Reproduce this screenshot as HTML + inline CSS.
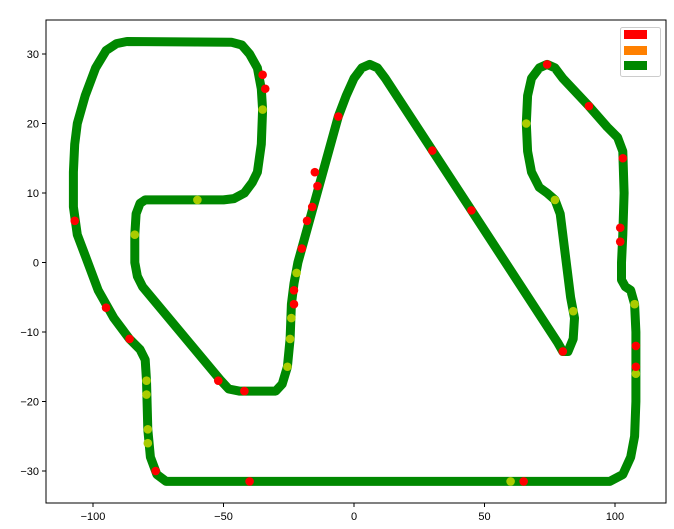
<!DOCTYPE html>
<html><head><meta charset="utf-8"><style>
body{margin:0;background:#fff;font-family:"Liberation Sans",sans-serif}
svg text{font-family:"Liberation Sans",sans-serif;font-size:11px;fill:#000}
</style></head><body>
<svg id="chart" width="674" height="524">
<rect x="46" y="20" width="620" height="483" fill="#fff" stroke="#000" stroke-width="1"/>
<g id="marks"></g>
<g id="axes"></g>
<g>
<rect x="620.5" y="27.5" width="40" height="49" rx="2" fill="#fff" stroke="#ccc"/>
<rect x="624" y="30" width="23" height="9" fill="#ff0000"/>
<rect x="624" y="46" width="23" height="9" fill="#ff8000"/>
<rect x="624" y="61" width="23" height="9" fill="#008800"/>
</g>
</svg>
<script>
const trackX=[-87,-47,-43,-40,-37,-35.5,-35,-35.5,-37,-39,-42,-46,-50,-80,-82,-83.5,-84,-84,-83,-81,-51,-48,-44,-30,-27.5,-25.5,-24.5,-24,-23,-21.5,-6,-3,0,3,6,9,12,78,80,82,84,84.5,83,79,77,74,71,68,66.5,66,66.5,68,71,74,77,80,90,97,101,103,103.5,103,102.5,102.5,104,106,107.5,108,108,107.5,106,103,98,92,-72,-75.5,-78,-79,-79.5,-80,-82,-86,-92,-98,-103,-106,-107.5,-107.5,-107,-106,-103,-99,-95,-91,-87];
const trackY=[31.8,31.7,31.3,30,28,25,22,17,13,11.5,10,9.2,9,9,8.5,7,4,0,-2,-3.5,-17,-18.2,-18.5,-18.5,-17.5,-15,-11,-6,-3,0,21,24,26.5,28,28.5,28,26.5,-11.5,-12.8,-12.8,-11,-8,-5,7,9,10,10.8,13,16,20,24,26.5,28,28.5,28,26.5,22.5,19.5,18,16,10,4,0,-2.5,-3.5,-4,-6,-10,-20,-25,-28,-30.5,-31.5,-31.5,-31.5,-30.5,-28,-24,-17,-14,-12.5,-11,-8,-4,1,4,8,13,17,20,24,28,30.5,31.5,31.8];
const redX=[-15,-14,-16,-18,-20,-23,-23,-35,-34,-107,-95,-86,-42,-52,102,102,108,108,103,-6,30,45,65,90,-40,80,-76,74];
const redY=[13,11,8,6,2,-4,-6,27,25,6,-6.5,-11,-18.5,-17,5,3,-12,-15,15,21,16.1,7.5,-31.5,22.5,-31.5,-12.8,-30,28.5];
const yelX=[-22,-24,-24.5,-35,-79,-79,-79.5,84,108,-84,66,-25.5,77,107.5,-79.5,-60,60];
const yelY=[-1.5,-8,-11,22,-24,-26,-19,-7,-16,4,20,-15,9,-6,-17,9,-31.5];
const xTicks=[-100,-50,0,50,100];
const yTicks=[-30,-20,-10,0,10,20,30];
const X=v=>354+v*2.61, Y=v=>262.5-v*6.95;
const ns="http://www.w3.org/2000/svg";
const marks=document.getElementById('marks'), axes=document.getElementById('axes');
function mk(tag,attrs,parent){const e=document.createElementNS(ns,tag);for(const k in attrs)e.setAttribute(k,attrs[k]);parent.appendChild(e);return e;}
let d=trackX.map((x,i)=>(i?'L':'M')+X(x).toFixed(1)+' '+Y(trackY[i]).toFixed(1)).join(' ');
const path=mk('path',{d:d,fill:'none',stroke:'#008800','stroke-width':9,'stroke-linejoin':'round','stroke-linecap':'round'},marks);


yelX.forEach((x,i)=>{const c=mk('circle',{cx:X(x),cy:Y(yelY[i]),r:4.3,fill:'#aacc00'},marks);

});
redX.forEach((x,i)=>{const c=mk('circle',{cx:X(x),cy:Y(redY[i]),r:4.3,fill:'#ff0000'},marks);

});
xTicks.forEach(t=>{const px=X(t);mk('line',{x1:px,x2:px,y1:503,y2:507,stroke:'#000'},axes);
const tx=mk('text',{x:px,y:520,'text-anchor':'middle'},axes);tx.textContent=t<0?'\u2212'+(-t):t;

});
yTicks.forEach(t=>{const py=Y(t);mk('line',{x1:42,x2:46,y1:py,y2:py,stroke:'#000'},axes);
const tx=mk('text',{x:39,y:py+4,'text-anchor':'end'},axes);tx.textContent=t<0?'\u2212'+(-t):t;

});
</script>
</body></html>
